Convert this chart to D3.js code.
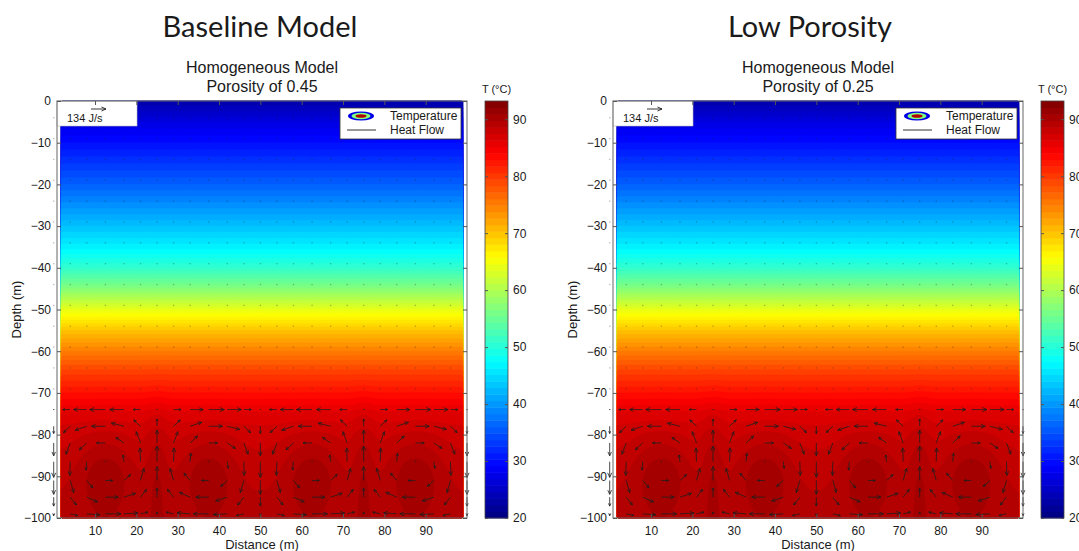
<!DOCTYPE html>
<html>
<head>
<meta charset="utf-8">
<script src="https://cdnjs.cloudflare.com/ajax/libs/d3/7.8.5/d3.min.js"></script>
<style>
  html, body { margin: 0; padding: 0; background: #ffffff; }
  svg { display: block; }
  text { fill: #1a1a1a; }
</style>
</head>
<body>
<svg id="chart" width="1079" height="551"></svg>
<script>
// ---- data -------------------------------------------------------------
const panelTitles   = ["Baseline Model", "Low Porosity"];
const porosityText  = ["0.45", "0.25"];
const distanceTicks = [10, 20, 30, 40, 50, 60, 70, 80, 90];
const depthTicks    = [0, -10, -20, -30, -40, -50, -60, -70, -80, -90, -100];
const colorTicks    = [20, 30, 40, 50, 60, 70, 80, 90];
const tempRange     = [20, 93.2];
const distanceRange = [0.8, 100];
const fieldRange    = [1.8, 99];

// horizontally averaged temperature profile (deg C) against depth (m)
const profileDepth = [0, -5, -10, -15, -20, -25, -30, -35, -40, -45, -50, -55, -60, -65, -70, -73, -75, -80, -85, -90, -95, -100];
const profileTemp  = [23, 27, 30, 33, 36, 39.5, 43, 46.5, 51, 57, 64, 70, 75, 79.5, 83, 85, 86.3, 87.5, 88, 88.5, 89, 89.5];

// warm cores of the convection rolls (x, depth, half-widths, excess temperature)
const hotX     = [12.5, 37.5, 62.5, 87.5, 25, 75];
const hotDepth = [-89, -89, -89, -89, -88, -88];
const hotRx    = [7, 7, 7, 7, 2.5, 2.5];
const hotRy    = [9, 9, 9, 9, 14, 14];
const hotAmp   = [2.2, 2.2, 2.2, 2.2, 1.4, 1.4];

// convection rolls: edges (m) and sense of rotation
const rollEdges = [0, 25, 50, 75, 100];
const rollSpin  = [1, -1, 1, -1];

// heat-flow vectors of one roll (J/s), at node offsets from the roll's left edge
const nodeOffsets = [0, 4, 8, 12.5, 17, 21, 25];
const nodeDepths  = [-74, -78, -82, -86.5, -91, -95, -99];
const fluxU = [
  [0, -67, -118, -140, -127, -67, 0],
  [0, -60, -105, -124, -112, -60, 0],
  [0, -38, -67, -80, -72, -38, 0],
  [0, -4, -7, -8, -8, -4, 0],
  [0, 31, 55, 65, 59, 31, 0],
  [0, 55, 97, 115, 104, 55, 0],
  [0, 67, 117, 139, 126, 67, 0]
];
const fluxW = [
  [0, 0, 0, 0, 0, 0, 0],
  [-65, -57, -35, 0, 28, 57, 65],
  [-115, -101, -62, 0, 49, 101, 115],
  [-140, -123, -75, 0, 60, 123, 140],
  [-124, -109, -66, 0, 53, 109, 124],
  [-80, -70, -43, 0, 34, 70, 80],
  [-17, -15, -9, 0, 7, 15, 17]
];
// near-stagnant nodes above the rolls
const stillDepths = [-4, -9, -14, -19, -24, -29, -34, -39, -44, -49, -54, -59, -64, -69];
const refFlux = 134;

// ---- helpers ----------------------------------------------------------
const SANS = "'Liberation Sans', Arial, sans-serif";
function jet(t) {
  t = Math.max(0, Math.min(1, t));
  const c = v => Math.round(255 * Math.max(0, Math.min(1, v)));
  return `rgb(${c(1.5 - Math.abs(4 * t - 3))},${c(1.5 - Math.abs(4 * t - 2))},${c(1.5 - Math.abs(4 * t - 1))})`;
}
const tempToT = v => (v - tempRange[0]) / (tempRange[1] - tempRange[0]);
const profile = d3.scaleLinear().domain(profileDepth).range(profileTemp).clamp(true);

function temperatureAt(x, z) {
  let v = profile(z);
  for (let i = 0; i < hotX.length; i++) {
    const dx = (x - hotX[i]) / hotRx[i], dz = (z - hotDepth[i]) / hotRy[i];
    v += hotAmp[i] * Math.exp(-(dx * dx + dz * dz));
  }
  return v;
}

// ---- layout -----------------------------------------------------------
const svg = d3.select("#chart");
const panelOffsets = [0, 556];
const headingShift = [-2, -8];
const plot = { left: 57, right: 467, top: 101, bottom: 518 };
const cbar = { left: 485, right: 508 };

// contour grid (shared by both panels)
const nx = 120, ny = 240;
const gridValues = new Array(nx * ny);
for (let j = 0; j < ny; j++) {
  const z = -(j + 0.5) * 100 / ny;
  for (let i = 0; i < nx; i++) {
    const x = fieldRange[0] + (i + 0.5) * (fieldRange[1] - fieldRange[0]) / nx;
    gridValues[j * nx + i] = temperatureAt(x, z);
  }
}
const levels = d3.range(20, 94, 1);
const bands = d3.contours().size([nx, ny]).thresholds(levels)(gridValues);

function label(sel, size, family) {
  return sel.style("font-family", family || SANS).style("font-size", size + "px");
}

panelOffsets.forEach((off, p) => {
  const g = svg.append("g").attr("transform", `translate(${off},0)`);
  const x = d3.scaleLinear().domain(distanceRange).range([plot.left, plot.right]);
  const y = d3.scaleLinear().domain([0, -100]).range([plot.top, plot.bottom]);

  // filled temperature contours
  const gx = d3.scaleLinear().domain([0, nx]).range([x(fieldRange[0]), x(fieldRange[1])]);
  const gy = d3.scaleLinear().domain([0, ny]).range([y(0), y(-100)]);
  const proj = d3.geoTransform({ point: function (a, b) { this.stream.point(gx(a), gy(b)); } });
  const path = d3.geoPath(proj);
  g.append("rect")
    .attr("x", x(fieldRange[0])).attr("y", y(0))
    .attr("width", x(fieldRange[1]) - x(fieldRange[0])).attr("height", y(-100) - y(0))
    .attr("fill", jet(tempToT(20.5)));
  g.append("g").selectAll("path").data(bands).join("path")
    .attr("d", path)
    .attr("fill", d => jet(tempToT(d.value + 0.5)))
    .attr("stroke", d => jet(tempToT(d.value + 0.5)))
    .attr("stroke-width", 0.4);

  // stagnant nodes
  const stillG = g.append("g").attr("fill", "#222").attr("opacity", 0.3);
  rollEdges.slice(0, -1).forEach(edge => {
    nodeOffsets.slice(0, -1).forEach(o => {
      stillDepths.forEach(zd => {
        stillG.append("rect").attr("x", x(edge + o) - 0.6).attr("y", y(zd) - 0.6)
          .attr("width", 1.3).attr("height", 1.3);
      });
    });
  });

  // heat-flow arrows
  const k = 15 / refFlux;
  const arrowPath = (px, py, dx, dy) => {
    const len = Math.hypot(dx, dy);
    if (len < 1.5) return `M${px - 0.6},${py}h1.3`;
    const tx = px + dx, ty = py + dy;
    const ang = Math.atan2(dy, dx), hl = Math.min(5, Math.max(2.5, len * 0.33)), ha = 0.42;
    return `M${px},${py}L${tx},${ty}` +
      `M${tx - hl * Math.cos(ang - ha)},${ty - hl * Math.sin(ang - ha)}L${tx},${ty}` +
      `L${tx - hl * Math.cos(ang + ha)},${ty - hl * Math.sin(ang + ha)}`;
  };
  const arrows = [];
  rollEdges.slice(0, -1).forEach((edge, r) => {
    nodeOffsets.forEach((o, c) => {
      if (c === nodeOffsets.length - 1 && r !== rollSpin.length - 1) return;
      nodeDepths.forEach((zd, rr) => {
        arrows.push({ xd: edge + o, zd, u: rollSpin[r] * fluxU[rr][c], w: rollSpin[r] * fluxW[rr][c] });
      });
    });
  });
  g.append("g").selectAll("path").data(arrows).join("path")
    .attr("d", d => arrowPath(x(d.xd), y(d.zd), d.u * k, -d.w * k))
    .attr("fill", "none").attr("stroke", "#1e1e1e").attr("stroke-width", 1).attr("opacity", 0.8);

  // reference-arrow box
  g.append("rect").attr("x", plot.left).attr("y", plot.top).attr("width", 80).attr("height", 25)
    .attr("fill", "#fff").attr("stroke", "#bbb").attr("stroke-width", 0.6);
  g.append("path").attr("d", arrowPath(91, 109, refFlux * k, 0))
    .attr("fill", "none").attr("stroke", "#222").attr("stroke-width", 0.9);
  label(g.append("text").attr("x", 67).attr("y", 122), 11).text(`${refFlux} J/s`);

  // legend
  const lg = g.append("g");
  lg.append("rect").attr("x", 340).attr("y", 108).attr("width", 121).attr("height", 31)
    .attr("fill", "#fff").attr("stroke", "#333").attr("stroke-width", 0.8);
  [[13, 4.6, jet(0.1)], [9.5, 3.2, jet(0.5)], [5.5, 1.8, jet(0.95)]].forEach(([rx, ry, col]) => {
    lg.append("ellipse").attr("cx", 361).attr("cy", 116).attr("rx", rx).attr("ry", ry).attr("fill", col);
  });
  label(lg.append("text").attr("x", 390).attr("y", 120), 12).text("Temperature");
  lg.append("line").attr("x1", 347).attr("x2", 376).attr("y1", 130).attr("y2", 130)
    .attr("stroke", "#333").attr("stroke-width", 1);
  label(lg.append("text").attr("x", 390).attr("y", 134), 12).text("Heat Flow");

  // axes frame and ticks (all four sides)
  g.append("rect").attr("x", plot.left).attr("y", plot.top)
    .attr("width", plot.right - plot.left).attr("height", plot.bottom - plot.top)
    .attr("fill", "none").attr("stroke", "#666").attr("stroke-width", 1);
  const axB = d3.axisBottom(x).tickValues(distanceTicks).tickSizeInner(-4).tickSizeOuter(0).tickPadding(8);
  const axT = d3.axisTop(x).tickValues(distanceTicks).tickSizeInner(-4).tickSizeOuter(0).tickFormat("");
  const axL = d3.axisLeft(y).tickValues(depthTicks).tickSizeInner(-4).tickSizeOuter(0).tickPadding(6);
  const axR = d3.axisRight(y).tickValues(depthTicks).tickSizeInner(-4).tickSizeOuter(0).tickFormat("");
  const style = sel => {
    sel.select(".domain").remove();
    sel.selectAll(".tick line").attr("stroke", "#555");
    label(sel.selectAll(".tick text"), 12).style("fill", "#1a1a1a");
  };
  g.append("g").attr("transform", `translate(0,${plot.bottom})`).call(axB).call(style);
  g.append("g").attr("transform", `translate(0,${plot.top})`).call(axT).call(style);
  g.append("g").attr("transform", `translate(${plot.left},0)`).call(axL).call(style);
  g.append("g").attr("transform", `translate(${plot.right},0)`).call(axR).call(style);

  // axis titles
  const cx = (plot.left + plot.right) / 2;
  label(g.append("text").attr("x", cx).attr("y", 549).attr("text-anchor", "middle"), 13).text("Distance (m)");
  label(g.append("text").attr("transform", `translate(21,${(plot.top + plot.bottom) / 2}) rotate(-90)`)
    .attr("text-anchor", "middle"), 13).text("Depth (m)");
  label(g.append("text").attr("x", cx).attr("y", 72.5).attr("text-anchor", "middle"), 16).text("Homogeneous Model");
  label(g.append("text").attr("x", cx).attr("y", 91.5).attr("text-anchor", "middle"), 16).text(`Porosity of ${porosityText[p]}`);
  label(g.append("text").attr("x", cx + headingShift[p]).attr("y", 37).attr("text-anchor", "middle"), 29,
    "Lato, 'Open Sans', sans-serif").text(panelTitles[p]);

  // colour bar
  const cy = d3.scaleLinear().domain(tempRange).range([plot.bottom, plot.top]);
  const nColours = 64;
  const step = (tempRange[1] - tempRange[0]) / nColours;
  g.append("g").selectAll("rect").data(d3.range(nColours)).join("rect")
    .attr("x", cbar.left).attr("width", cbar.right - cbar.left)
    .attr("y", i => cy(tempRange[0] + (i + 1) * step))
    .attr("height", i => cy(tempRange[0] + i * step) - cy(tempRange[0] + (i + 1) * step) + 0.5)
    .attr("fill", i => jet((i + 0.5) / nColours));
  g.append("rect").attr("x", cbar.left).attr("y", plot.top).attr("width", cbar.right - cbar.left)
    .attr("height", plot.bottom - plot.top).attr("fill", "none").attr("stroke", "#444").attr("stroke-width", 0.8);
  const axC = d3.axisRight(cy).tickValues(colorTicks).tickSizeInner(-3).tickSizeOuter(0).tickPadding(5);
  g.append("g").attr("transform", `translate(${cbar.right},0)`).call(axC).call(style);
  const axC2 = d3.axisLeft(cy).tickValues(colorTicks).tickSizeInner(-3).tickSizeOuter(0).tickFormat("");
  g.append("g").attr("transform", `translate(${cbar.left},0)`).call(axC2).call(style);
  label(g.append("text").attr("x", (cbar.left + cbar.right) / 2).attr("y", 93).attr("text-anchor", "middle"), 11)
    .text("T (\u00B0C)");
});
</script>
</body>
</html>
